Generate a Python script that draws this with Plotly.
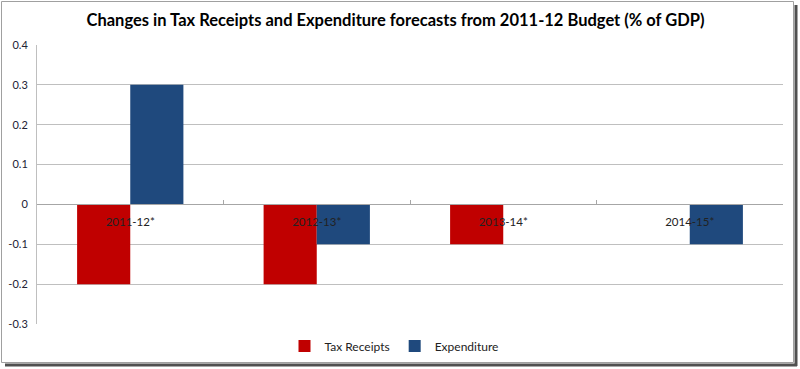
import plotly.graph_objects as go

categories = ["2011-12*", "2012-13*", "2013-14*", "2014-15*"]
tax_receipts = [-0.2, -0.2, -0.1, 0.0]
expenditure = [0.3, -0.1, 0.0, -0.1]
ytick_vals = [-0.3, -0.2, -0.1, 0, 0.1, 0.2, 0.3, 0.4]
ytick_text = ["-0.3", "-0.2", "-0.1", "0", "0.1", "0.2", "0.3", "0.4"]
title_text = "Changes in Tax Receipts and Expenditure forecasts from 2011-12 Budget (% of GDP)"

W, H = 800, 369
L, R, T, B = 37, 17, 45, 45
pw, ph = W - L - R, H - T - B

def px(x):
    return (x - L) / pw

def py(y):
    return (H - B - y) / ph

fig = go.Figure()
fig.add_trace(go.Bar(x=categories, y=tax_receipts, name="Tax Receipts",
                     marker=dict(color="#C00000", line=dict(width=0))))
fig.add_trace(go.Bar(x=categories, y=expenditure, name="Expenditure",
                     marker=dict(color="#1F497D", line=dict(width=0))))

ymin, ymax = -0.3, 0.4
zero_pos = (0 - ymin) / (ymax - ymin)

fig.update_layout(
    width=W, height=H,
    margin=dict(l=L, r=R, t=T, b=B, autoexpand=False),
    paper_bgcolor="white", plot_bgcolor="white",
    font=dict(family="Lato, Liberation Sans, sans-serif", size=11, color="#222222"),
    title=dict(text="<b>" + title_text + "</b>", x=395.5 / W, xref="container", xanchor="center",
               y=1 - 20 / H, yanchor="middle", yref="container",
               font=dict(size=16.5, color="#000000")),
    barmode="group", bargap=0.43, bargroupgap=0,
    showlegend=True,
    legend=dict(orientation="h", x=px(394), xanchor="center", y=py(346), yanchor="middle",
                font=dict(size=12, color="#222222"), itemwidth=30,
                traceorder="normal", bgcolor="rgba(0,0,0,0)"),
    xaxis=dict(type="category", anchor="free", position=zero_pos,
               showline=True, linecolor="#a6a6a6", linewidth=1,
               ticks="inside", ticklen=4, tickcolor="#a6a6a6", tickson="boundaries",
               ticklabelstandoff=7, showgrid=False, zeroline=False,
               tickfont=dict(size=11.5, color="#222222")),
    yaxis=dict(range=[ymin, ymax], tickvals=ytick_vals, ticktext=ytick_text,
               showgrid=True, gridcolor="#bfbfbf", gridwidth=1,
               showline=True, linecolor="#bfbfbf", linewidth=1,
               zeroline=False, ticks="", ticklabelstandoff=6,
               tickfont=dict(size=11, color="#222233")),
)

# frame with shadow
fig.add_shape(type="line", xref="paper", yref="paper",
              x0=px(796), x1=px(796), y0=py(5), y1=py(366),
              line=dict(color="#505050", width=3), layer="above")
fig.add_shape(type="line", xref="paper", yref="paper",
              x0=px(5), x1=px(797), y0=py(365), y1=py(365),
              line=dict(color="#505050", width=3), layer="above")
fig.add_shape(type="rect", xref="paper", yref="paper",
              x0=px(1.5), x1=px(793.5), y0=py(1.5), y1=py(362.5),
              line=dict(color="#a0a0a0", width=1), fillcolor="rgba(0,0,0,0)", layer="above")

fig.write_html("out.html", config={"displayModeBar": False},
               post_script="document.body.style.margin='0';document.body.style.overflow='hidden';")
